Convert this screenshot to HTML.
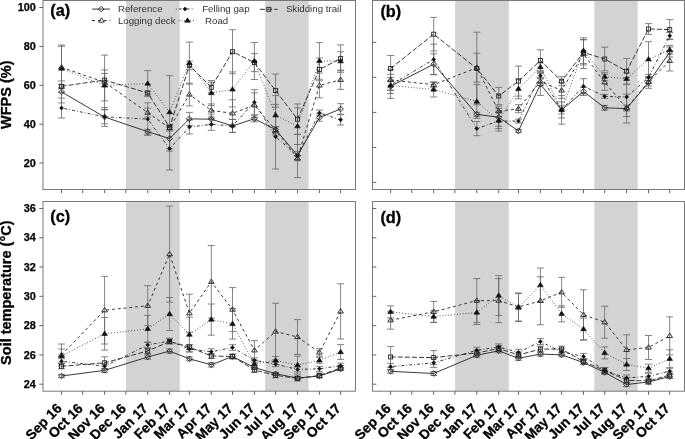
<!DOCTYPE html><html><head><meta charset="utf-8"><style>
html,body{margin:0;padding:0;background:#fff;}
svg{display:block;font-family:"Liberation Sans",sans-serif;will-change:transform;}
.fr{fill:none;stroke:#787878;stroke-width:1;}
.tk{stroke:#666;stroke-width:1;}
.sh{fill:#d3d3d3;}
.eb{stroke:#666;stroke-width:0.8;fill:none;}
.ln{fill:none;stroke:#222;stroke-width:0.9;}
.mo{fill:#fff;fill-opacity:0;stroke:#222;stroke-width:0.9;}
.mf{fill:#111;stroke:#111;stroke-width:0.6;}
.yl{font-size:10.9px;font-weight:bold;fill:#000;stroke:#000;stroke-width:0.25px;text-anchor:end;}
.xl{font-size:13.8px;font-weight:bold;fill:#000;stroke:#000;stroke-width:0.3px;text-anchor:end;}
.pl{font-size:16.3px;font-weight:bold;fill:#000;stroke:#000;stroke-width:0.3px;}
.lg{font-size:9.7px;fill:#333;}
.at{font-size:14.5px;font-weight:bold;fill:#000;stroke:#000;stroke-width:0.3px;text-anchor:middle;}
</style></head><body>
<svg width="685" height="439" viewBox="0 0 685 439">
<rect class="sh" x="126.00" y="0.5" width="53.70" height="189.0"/>
<rect class="sh" x="265.20" y="0.5" width="43.40" height="189.0"/>
<rect class="sh" x="455.10" y="0.5" width="53.70" height="189.0"/>
<rect class="sh" x="594.30" y="0.5" width="43.40" height="189.0"/>
<rect class="sh" x="126.00" y="201.5" width="53.70" height="189.7"/>
<rect class="sh" x="265.20" y="201.5" width="43.40" height="189.7"/>
<rect class="sh" x="455.10" y="201.5" width="53.70" height="189.7"/>
<rect class="sh" x="594.30" y="201.5" width="43.40" height="189.7"/>
<rect class="fr" x="43.0" y="0.5" width="312.5" height="189.0"/>
<line class="tk" x1="61.50" y1="189.5" x2="61.50" y2="193.1"/>
<line class="tk" x1="82.70" y1="189.5" x2="82.70" y2="193.1"/>
<line class="tk" x1="104.60" y1="189.5" x2="104.60" y2="193.1"/>
<line class="tk" x1="125.80" y1="189.5" x2="125.80" y2="193.1"/>
<line class="tk" x1="147.71" y1="189.5" x2="147.71" y2="193.1"/>
<line class="tk" x1="169.61" y1="189.5" x2="169.61" y2="193.1"/>
<line class="tk" x1="189.39" y1="189.5" x2="189.39" y2="193.1"/>
<line class="tk" x1="211.30" y1="189.5" x2="211.30" y2="193.1"/>
<line class="tk" x1="232.50" y1="189.5" x2="232.50" y2="193.1"/>
<line class="tk" x1="254.40" y1="189.5" x2="254.40" y2="193.1"/>
<line class="tk" x1="275.60" y1="189.5" x2="275.60" y2="193.1"/>
<line class="tk" x1="297.50" y1="189.5" x2="297.50" y2="193.1"/>
<line class="tk" x1="319.41" y1="189.5" x2="319.41" y2="193.1"/>
<line class="tk" x1="340.61" y1="189.5" x2="340.61" y2="193.1"/>
<rect class="fr" x="372.5" y="0.5" width="312.0" height="189.0"/>
<line class="tk" x1="390.60" y1="189.5" x2="390.60" y2="193.1"/>
<line class="tk" x1="411.80" y1="189.5" x2="411.80" y2="193.1"/>
<line class="tk" x1="433.70" y1="189.5" x2="433.70" y2="193.1"/>
<line class="tk" x1="454.90" y1="189.5" x2="454.90" y2="193.1"/>
<line class="tk" x1="476.81" y1="189.5" x2="476.81" y2="193.1"/>
<line class="tk" x1="498.71" y1="189.5" x2="498.71" y2="193.1"/>
<line class="tk" x1="518.49" y1="189.5" x2="518.49" y2="193.1"/>
<line class="tk" x1="540.40" y1="189.5" x2="540.40" y2="193.1"/>
<line class="tk" x1="561.60" y1="189.5" x2="561.60" y2="193.1"/>
<line class="tk" x1="583.50" y1="189.5" x2="583.50" y2="193.1"/>
<line class="tk" x1="604.70" y1="189.5" x2="604.70" y2="193.1"/>
<line class="tk" x1="626.60" y1="189.5" x2="626.60" y2="193.1"/>
<line class="tk" x1="648.51" y1="189.5" x2="648.51" y2="193.1"/>
<line class="tk" x1="669.71" y1="189.5" x2="669.71" y2="193.1"/>
<rect class="fr" x="43.0" y="201.5" width="312.5" height="189.7"/>
<line class="tk" x1="61.50" y1="391.2" x2="61.50" y2="394.8"/>
<line class="tk" x1="82.70" y1="391.2" x2="82.70" y2="394.8"/>
<line class="tk" x1="104.60" y1="391.2" x2="104.60" y2="394.8"/>
<line class="tk" x1="125.80" y1="391.2" x2="125.80" y2="394.8"/>
<line class="tk" x1="147.71" y1="391.2" x2="147.71" y2="394.8"/>
<line class="tk" x1="169.61" y1="391.2" x2="169.61" y2="394.8"/>
<line class="tk" x1="189.39" y1="391.2" x2="189.39" y2="394.8"/>
<line class="tk" x1="211.30" y1="391.2" x2="211.30" y2="394.8"/>
<line class="tk" x1="232.50" y1="391.2" x2="232.50" y2="394.8"/>
<line class="tk" x1="254.40" y1="391.2" x2="254.40" y2="394.8"/>
<line class="tk" x1="275.60" y1="391.2" x2="275.60" y2="394.8"/>
<line class="tk" x1="297.50" y1="391.2" x2="297.50" y2="394.8"/>
<line class="tk" x1="319.41" y1="391.2" x2="319.41" y2="394.8"/>
<line class="tk" x1="340.61" y1="391.2" x2="340.61" y2="394.8"/>
<rect class="fr" x="372.5" y="201.5" width="312.0" height="189.7"/>
<line class="tk" x1="390.60" y1="391.2" x2="390.60" y2="394.8"/>
<line class="tk" x1="411.80" y1="391.2" x2="411.80" y2="394.8"/>
<line class="tk" x1="433.70" y1="391.2" x2="433.70" y2="394.8"/>
<line class="tk" x1="454.90" y1="391.2" x2="454.90" y2="394.8"/>
<line class="tk" x1="476.81" y1="391.2" x2="476.81" y2="394.8"/>
<line class="tk" x1="498.71" y1="391.2" x2="498.71" y2="394.8"/>
<line class="tk" x1="518.49" y1="391.2" x2="518.49" y2="394.8"/>
<line class="tk" x1="540.40" y1="391.2" x2="540.40" y2="394.8"/>
<line class="tk" x1="561.60" y1="391.2" x2="561.60" y2="394.8"/>
<line class="tk" x1="583.50" y1="391.2" x2="583.50" y2="394.8"/>
<line class="tk" x1="604.70" y1="391.2" x2="604.70" y2="394.8"/>
<line class="tk" x1="626.60" y1="391.2" x2="626.60" y2="394.8"/>
<line class="tk" x1="648.51" y1="391.2" x2="648.51" y2="394.8"/>
<line class="tk" x1="669.71" y1="391.2" x2="669.71" y2="394.8"/>
<line class="tk" x1="39.3" y1="7.5" x2="43.0" y2="7.5"/>
<text class="yl" x="35.8" y="11.1">100</text>
<line class="tk" x1="39.3" y1="46.4" x2="43.0" y2="46.4"/>
<text class="yl" x="35.8" y="50.0">80</text>
<line class="tk" x1="39.3" y1="85.3" x2="43.0" y2="85.3"/>
<text class="yl" x="35.8" y="88.89999999999999">60</text>
<line class="tk" x1="39.3" y1="124.2" x2="43.0" y2="124.2"/>
<text class="yl" x="35.8" y="127.8">40</text>
<line class="tk" x1="39.3" y1="163.0" x2="43.0" y2="163.0"/>
<text class="yl" x="35.8" y="166.6">20</text>
<line class="tk" x1="372.5" y1="42.4" x2="376.3" y2="42.4"/>
<line class="tk" x1="372.5" y1="77.4" x2="376.3" y2="77.4"/>
<line class="tk" x1="372.5" y1="112.4" x2="376.3" y2="112.4"/>
<line class="tk" x1="372.5" y1="147.4" x2="376.3" y2="147.4"/>
<line class="tk" x1="372.5" y1="182.4" x2="376.3" y2="182.4"/>
<line class="tk" x1="39.3" y1="208.50" x2="43.0" y2="208.50"/>
<text class="yl" x="35.8" y="212.10">36</text>
<line class="tk" x1="372.5" y1="208.50" x2="376.3" y2="208.50"/>
<line class="tk" x1="39.3" y1="237.78" x2="43.0" y2="237.78"/>
<text class="yl" x="35.8" y="241.38">34</text>
<line class="tk" x1="372.5" y1="237.78" x2="376.3" y2="237.78"/>
<line class="tk" x1="39.3" y1="267.06" x2="43.0" y2="267.06"/>
<text class="yl" x="35.8" y="270.66">32</text>
<line class="tk" x1="372.5" y1="267.06" x2="376.3" y2="267.06"/>
<line class="tk" x1="39.3" y1="296.34" x2="43.0" y2="296.34"/>
<text class="yl" x="35.8" y="299.94">30</text>
<line class="tk" x1="372.5" y1="296.34" x2="376.3" y2="296.34"/>
<line class="tk" x1="39.3" y1="325.62" x2="43.0" y2="325.62"/>
<text class="yl" x="35.8" y="329.22">28</text>
<line class="tk" x1="372.5" y1="325.62" x2="376.3" y2="325.62"/>
<line class="tk" x1="39.3" y1="354.90" x2="43.0" y2="354.90"/>
<text class="yl" x="35.8" y="358.50">26</text>
<line class="tk" x1="372.5" y1="354.90" x2="376.3" y2="354.90"/>
<line class="tk" x1="39.3" y1="384.18" x2="43.0" y2="384.18"/>
<text class="yl" x="35.8" y="387.78">24</text>
<line class="tk" x1="372.5" y1="384.18" x2="376.3" y2="384.18"/>
<text class="xl" x="62.60" y="409.2" transform="rotate(-45 62.60 409.2)">Sep 16</text>
<text class="xl" x="83.80" y="409.2" transform="rotate(-45 83.80 409.2)">Oct 16</text>
<text class="xl" x="105.70" y="409.2" transform="rotate(-45 105.70 409.2)">Nov 16</text>
<text class="xl" x="126.90" y="409.2" transform="rotate(-45 126.90 409.2)">Dec 16</text>
<text class="xl" x="148.81" y="409.2" transform="rotate(-45 148.81 409.2)">Jan 17</text>
<text class="xl" x="170.71" y="409.2" transform="rotate(-45 170.71 409.2)">Feb 17</text>
<text class="xl" x="190.49" y="409.2" transform="rotate(-45 190.49 409.2)">Mar 17</text>
<text class="xl" x="212.40" y="409.2" transform="rotate(-45 212.40 409.2)">Apr 17</text>
<text class="xl" x="233.60" y="409.2" transform="rotate(-45 233.60 409.2)">May 17</text>
<text class="xl" x="255.50" y="409.2" transform="rotate(-45 255.50 409.2)">Jun 17</text>
<text class="xl" x="276.70" y="409.2" transform="rotate(-45 276.70 409.2)">Jul 17</text>
<text class="xl" x="298.60" y="409.2" transform="rotate(-45 298.60 409.2)">Aug 17</text>
<text class="xl" x="320.51" y="409.2" transform="rotate(-45 320.51 409.2)">Sep 17</text>
<text class="xl" x="341.71" y="409.2" transform="rotate(-45 341.71 409.2)">Oct 17</text>
<text class="xl" x="391.70" y="409.2" transform="rotate(-45 391.70 409.2)">Sep 16</text>
<text class="xl" x="412.90" y="409.2" transform="rotate(-45 412.90 409.2)">Oct 16</text>
<text class="xl" x="434.80" y="409.2" transform="rotate(-45 434.80 409.2)">Nov 16</text>
<text class="xl" x="456.00" y="409.2" transform="rotate(-45 456.00 409.2)">Dec 16</text>
<text class="xl" x="477.91" y="409.2" transform="rotate(-45 477.91 409.2)">Jan 17</text>
<text class="xl" x="499.81" y="409.2" transform="rotate(-45 499.81 409.2)">Feb 17</text>
<text class="xl" x="519.59" y="409.2" transform="rotate(-45 519.59 409.2)">Mar 17</text>
<text class="xl" x="541.50" y="409.2" transform="rotate(-45 541.50 409.2)">Apr 17</text>
<text class="xl" x="562.70" y="409.2" transform="rotate(-45 562.70 409.2)">May 17</text>
<text class="xl" x="584.60" y="409.2" transform="rotate(-45 584.60 409.2)">Jun 17</text>
<text class="xl" x="605.80" y="409.2" transform="rotate(-45 605.80 409.2)">Jul 17</text>
<text class="xl" x="627.70" y="409.2" transform="rotate(-45 627.70 409.2)">Aug 17</text>
<text class="xl" x="649.61" y="409.2" transform="rotate(-45 649.61 409.2)">Sep 17</text>
<text class="xl" x="670.81" y="409.2" transform="rotate(-45 670.81 409.2)">Oct 17</text>
<text class="pl" x="50.3" y="16.2">(a)</text>
<text class="pl" x="380.4" y="17.0">(b)</text>
<text class="pl" x="50.3" y="222.1">(c)</text>
<text class="pl" x="380.4" y="222.6">(d)</text>
<text class="at" x="10.8" y="94.7" transform="rotate(-90 10.8 94.7)" dy="0">WFPS (%)</text>
<text class="at" x="10.8" y="292.7" transform="rotate(-90 10.8 292.7)">Soil temperature (°C)</text>
<path class="eb" d="M61.50 84.80V87.80M58.00 84.80H65.00M58.00 87.80H65.00"/>
<path class="eb" d="M104.60 73.50V86.70M101.10 73.50H108.10M101.10 86.70H108.10"/>
<path class="eb" d="M147.71 91.00V95.00M144.21 91.00H151.21M144.21 95.00H151.21"/>
<path class="eb" d="M169.61 125.00V129.60M166.11 125.00H173.11M166.11 129.60H173.11"/>
<path class="eb" d="M189.39 61.10V69.70M185.89 61.10H192.89M185.89 69.70H192.89"/>
<path class="eb" d="M211.30 82.30V92.30M207.80 82.30H214.80M207.80 92.30H214.80"/>
<path class="eb" d="M232.50 29.70V73.70M229.00 29.70H236.00M229.00 73.70H236.00"/>
<path class="eb" d="M254.40 53.60V71.60M250.90 53.60H257.90M250.90 71.60H257.90"/>
<path class="eb" d="M275.60 74.00V107.20M272.10 74.00H279.10M272.10 107.20H279.10"/>
<path class="eb" d="M297.50 104.00V134.40M294.00 104.00H301.00M294.00 134.40H301.00"/>
<path class="eb" d="M319.41 58.00V80.80M315.91 58.00H322.91M315.91 80.80H322.91"/>
<path class="eb" d="M340.61 44.90V72.30M337.11 44.90H344.11M337.11 72.30H344.11"/>
<path class="eb" d="M61.50 45.00V92.20M58.00 45.00H65.00M58.00 92.20H65.00"/>
<path class="eb" d="M104.60 69.90V100.90M101.10 69.90H108.10M101.10 100.90H108.10"/>
<path class="eb" d="M147.71 70.60V96.60M144.21 70.60H151.21M144.21 96.60H151.21"/>
<path class="eb" d="M169.61 75.70V148.70M166.11 75.70H173.11M166.11 148.70H173.11"/>
<path class="eb" d="M189.39 42.10V84.10M185.89 42.10H192.89M185.89 84.10H192.89"/>
<path class="eb" d="M211.30 80.50V105.50M207.80 80.50H214.80M207.80 105.50H214.80"/>
<path class="eb" d="M232.50 71.90V106.90M229.00 71.90H236.00M229.00 106.90H236.00"/>
<path class="eb" d="M254.40 42.50V79.50M250.90 42.50H257.90M250.90 79.50H257.90"/>
<path class="eb" d="M275.60 95.60V135.00M272.10 95.60H279.10M272.10 135.00H279.10"/>
<path class="eb" d="M297.50 107.90V144.50M294.00 107.90H301.00M294.00 144.50H301.00"/>
<path class="eb" d="M319.41 42.60V79.20M315.91 42.60H322.91M315.91 79.20H322.91"/>
<path class="eb" d="M340.61 51.70V70.70M337.11 51.70H344.11M337.11 70.70H344.11"/>
<path class="eb" d="M61.50 98.00V118.00M58.00 98.00H65.00M58.00 118.00H65.00"/>
<path class="eb" d="M104.60 109.80V123.80M101.10 109.80H108.10M101.10 123.80H108.10"/>
<path class="eb" d="M147.71 102.80V135.40M144.21 102.80H151.21M144.21 135.40H151.21"/>
<path class="eb" d="M169.61 127.40V170.00M166.11 127.40H173.11M166.11 170.00H173.11"/>
<path class="eb" d="M189.39 120.00V134.00M185.89 120.00H192.89M185.89 134.00H192.89"/>
<path class="eb" d="M211.30 118.40V130.40M207.80 118.40H214.80M207.80 130.40H214.80"/>
<path class="eb" d="M232.50 119.40V132.40M229.00 119.40H236.00M229.00 132.40H236.00"/>
<path class="eb" d="M254.40 89.70V114.70M250.90 89.70H257.90M250.90 114.70H257.90"/>
<path class="eb" d="M275.60 104.40V169.00M272.10 104.40H279.10M272.10 169.00H279.10"/>
<path class="eb" d="M297.50 134.40V177.60M294.00 134.40H301.00M294.00 177.60H301.00"/>
<path class="eb" d="M319.41 110.00V116.00M315.91 110.00H322.91M315.91 116.00H322.91"/>
<path class="eb" d="M340.61 114.60V125.00M337.11 114.60H344.11M337.11 125.00H344.11"/>
<path class="eb" d="M61.50 46.30V88.30M58.00 46.30H65.00M58.00 88.30H65.00"/>
<path class="eb" d="M104.60 55.10V109.50M101.10 55.10H108.10M101.10 109.50H108.10"/>
<path class="eb" d="M147.71 108.20V117.00M144.21 108.20H151.21M144.21 117.00H151.21"/>
<path class="eb" d="M169.61 125.00V131.00M166.11 125.00H173.11M166.11 131.00H173.11"/>
<path class="eb" d="M189.39 83.10V105.90M185.89 83.10H192.89M185.89 105.90H192.89"/>
<path class="eb" d="M211.30 103.90V116.90M207.80 103.90H214.80M207.80 116.90H214.80"/>
<path class="eb" d="M232.50 99.80V126.80M229.00 99.80H236.00M229.00 126.80H236.00"/>
<path class="eb" d="M254.40 92.80V117.60M250.90 92.80H257.90M250.90 117.60H257.90"/>
<path class="eb" d="M275.60 127.00V133.00M272.10 127.00H279.10M272.10 133.00H279.10"/>
<path class="eb" d="M297.50 155.80V160.80M294.00 155.80H301.00M294.00 160.80H301.00"/>
<path class="eb" d="M319.41 73.00V97.80M315.91 73.00H322.91M315.91 97.80H322.91"/>
<path class="eb" d="M340.61 70.20V89.40M337.11 70.20H344.11M337.11 89.40H344.11"/>
<path class="eb" d="M61.50 80.90V102.90M58.00 80.90H65.00M58.00 102.90H65.00"/>
<path class="eb" d="M104.60 107.60V126.40M101.10 107.60H108.10M101.10 126.40H108.10"/>
<path class="eb" d="M147.71 129.30V134.10M144.21 129.30H151.21M144.21 134.10H151.21"/>
<path class="eb" d="M169.61 126.10V151.10M166.11 126.10H173.11M166.11 151.10H173.11"/>
<path class="eb" d="M189.39 112.40V125.40M185.89 112.40H192.89M185.89 125.40H192.89"/>
<path class="eb" d="M211.30 114.20V124.20M207.80 114.20H214.80M207.80 124.20H214.80"/>
<path class="eb" d="M232.50 119.40V132.40M229.00 119.40H236.00M229.00 132.40H236.00"/>
<path class="eb" d="M254.40 115.80V121.80M250.90 115.80H257.90M250.90 121.80H257.90"/>
<path class="eb" d="M275.60 126.50V132.50M272.10 126.50H279.10M272.10 132.50H279.10"/>
<path class="eb" d="M297.50 151.40V159.40M294.00 151.40H301.00M294.00 159.40H301.00"/>
<path class="eb" d="M319.41 113.80V121.20M315.91 113.80H322.91M315.91 121.20H322.91"/>
<path class="eb" d="M340.61 103.70V114.30M337.11 103.70H344.11M337.11 114.30H344.11"/>
<path class="ln" d="M61.50 86.30L104.60 80.10L147.71 93.00L169.61 127.30L189.39 65.40L211.30 87.30L232.50 51.70L254.40 62.60L275.60 90.60L297.50 119.20L319.41 69.40L340.61 58.60" stroke-dasharray="5 2.1"/>
<path class="ln" d="M61.50 68.60L104.60 85.40L147.71 83.60L169.61 112.20L189.39 63.10L211.30 93.00L232.50 89.40L254.40 61.00L275.60 115.30L297.50 126.20L319.41 60.90L340.61 61.20" stroke-dasharray="0.8 2.1"/>
<path class="ln" d="M61.50 108.00L104.60 116.80L147.71 119.10L169.61 148.70L189.39 127.00L211.30 124.40L232.50 125.90L254.40 102.20L275.60 136.70L297.50 156.00L319.41 113.00L340.61 119.80" stroke-dasharray="0.8 2.1 2.9 2.1"/>
<path class="ln" d="M61.50 67.30L104.60 82.30L147.71 112.60L169.61 128.00L189.39 94.50L211.30 110.40L232.50 113.30L254.40 105.20L275.60 130.00L297.50 158.30L319.41 85.40L340.61 79.80" stroke-dasharray="2.9 2.9"/>
<path class="ln" d="M61.50 91.90L104.60 117.00L147.71 131.70L169.61 138.60L189.39 118.90L211.30 119.20L232.50 125.90L254.40 118.80L275.60 129.50L297.50 155.40L319.41 117.50L340.61 109.00"/>
<rect x="59.51" y="84.31" width="3.99" height="3.99" class="mo"/>
<rect x="102.61" y="78.11" width="3.99" height="3.99" class="mo"/>
<rect x="145.71" y="91.01" width="3.99" height="3.99" class="mo"/>
<rect x="167.62" y="125.31" width="3.99" height="3.99" class="mo"/>
<rect x="187.40" y="63.41" width="3.99" height="3.99" class="mo"/>
<rect x="209.31" y="85.31" width="3.99" height="3.99" class="mo"/>
<rect x="230.50" y="49.71" width="3.99" height="3.99" class="mo"/>
<rect x="252.41" y="60.61" width="3.99" height="3.99" class="mo"/>
<rect x="273.61" y="88.61" width="3.99" height="3.99" class="mo"/>
<rect x="295.51" y="117.21" width="3.99" height="3.99" class="mo"/>
<rect x="317.42" y="67.41" width="3.99" height="3.99" class="mo"/>
<rect x="338.61" y="56.61" width="3.99" height="3.99" class="mo"/>
<path d="M61.50 65.85L64.35 70.25L58.65 70.25Z" class="mf"/>
<path d="M104.60 82.65L107.45 87.05L101.75 87.05Z" class="mf"/>
<path d="M147.71 80.85L150.56 85.25L144.86 85.25Z" class="mf"/>
<path d="M169.61 109.45L172.46 113.85L166.76 113.85Z" class="mf"/>
<path d="M189.39 60.35L192.24 64.75L186.54 64.75Z" class="mf"/>
<path d="M211.30 90.25L214.15 94.65L208.45 94.65Z" class="mf"/>
<path d="M232.50 86.65L235.35 91.05L229.65 91.05Z" class="mf"/>
<path d="M254.40 58.25L257.25 62.65L251.55 62.65Z" class="mf"/>
<path d="M275.60 112.55L278.45 116.95L272.75 116.95Z" class="mf"/>
<path d="M297.50 123.45L300.35 127.85L294.65 127.85Z" class="mf"/>
<path d="M319.41 58.15L322.26 62.55L316.56 62.55Z" class="mf"/>
<path d="M340.61 58.45L343.46 62.85L337.76 62.85Z" class="mf"/>
<path d="M61.50 106.04L63.46 108.00L61.50 109.96L59.54 108.00Z" class="mf"/>
<path d="M104.60 114.84L106.56 116.80L104.60 118.76L102.65 116.80Z" class="mf"/>
<path d="M147.71 117.14L149.66 119.10L147.71 121.06L145.75 119.10Z" class="mf"/>
<path d="M169.61 146.74L171.57 148.70L169.61 150.66L167.65 148.70Z" class="mf"/>
<path d="M189.39 125.04L191.35 127.00L189.39 128.96L187.44 127.00Z" class="mf"/>
<path d="M211.30 122.44L213.26 124.40L211.30 126.36L209.34 124.40Z" class="mf"/>
<path d="M232.50 123.94L234.45 125.90L232.50 127.86L230.54 125.90Z" class="mf"/>
<path d="M254.40 100.24L256.36 102.20L254.40 104.16L252.44 102.20Z" class="mf"/>
<path d="M275.60 134.74L277.56 136.70L275.60 138.66L273.64 136.70Z" class="mf"/>
<path d="M297.50 154.04L299.46 156.00L297.50 157.96L295.55 156.00Z" class="mf"/>
<path d="M319.41 111.04L321.37 113.00L319.41 114.96L317.45 113.00Z" class="mf"/>
<path d="M340.61 117.84L342.56 119.80L340.61 121.76L338.65 119.80Z" class="mf"/>
<path d="M61.50 64.55L64.35 68.95L58.65 68.95Z" class="mo"/>
<path d="M104.60 79.55L107.45 83.95L101.75 83.95Z" class="mo"/>
<path d="M147.71 109.85L150.56 114.25L144.86 114.25Z" class="mo"/>
<path d="M169.61 125.25L172.46 129.65L166.76 129.65Z" class="mo"/>
<path d="M189.39 91.75L192.24 96.15L186.54 96.15Z" class="mo"/>
<path d="M211.30 107.65L214.15 112.05L208.45 112.05Z" class="mo"/>
<path d="M232.50 110.55L235.35 114.95L229.65 114.95Z" class="mo"/>
<path d="M254.40 102.45L257.25 106.85L251.55 106.85Z" class="mo"/>
<path d="M275.60 127.25L278.45 131.65L272.75 131.65Z" class="mo"/>
<path d="M297.50 155.55L300.35 159.95L294.65 159.95Z" class="mo"/>
<path d="M319.41 82.65L322.26 87.05L316.56 87.05Z" class="mo"/>
<path d="M340.61 77.05L343.46 81.45L337.76 81.45Z" class="mo"/>
<path d="M61.50 89.08L64.32 91.90L61.50 94.72L58.68 91.90Z" class="mo"/>
<path d="M104.60 114.18L107.42 117.00L104.60 119.82L101.78 117.00Z" class="mo"/>
<path d="M147.71 128.88L150.52 131.70L147.71 134.52L144.89 131.70Z" class="mo"/>
<path d="M169.61 135.78L172.43 138.60L169.61 141.42L166.79 138.60Z" class="mo"/>
<path d="M189.39 116.08L192.21 118.90L189.39 121.72L186.58 118.90Z" class="mo"/>
<path d="M211.30 116.38L214.12 119.20L211.30 122.02L208.48 119.20Z" class="mo"/>
<path d="M232.50 123.08L235.32 125.90L232.50 128.72L229.68 125.90Z" class="mo"/>
<path d="M254.40 115.98L257.22 118.80L254.40 121.62L251.58 118.80Z" class="mo"/>
<path d="M275.60 126.68L278.42 129.50L275.60 132.32L272.78 129.50Z" class="mo"/>
<path d="M297.50 152.58L300.32 155.40L297.50 158.22L294.69 155.40Z" class="mo"/>
<path d="M319.41 114.68L322.23 117.50L319.41 120.32L316.59 117.50Z" class="mo"/>
<path d="M340.61 106.18L343.43 109.00L340.61 111.82L337.79 109.00Z" class="mo"/>
<path class="eb" d="M390.60 55.50V81.50M387.10 55.50H394.10M387.10 81.50H394.10"/>
<path class="eb" d="M433.70 17.40V51.00M430.20 17.40H437.20M430.20 51.00H437.20"/>
<path class="eb" d="M476.81 32.20V104.80M473.31 32.20H480.31M473.31 104.80H480.31"/>
<path class="eb" d="M498.71 87.40V104.60M495.21 87.40H502.21M495.21 104.60H502.21"/>
<path class="eb" d="M518.49 66.10V96.10M514.99 66.10H521.99M514.99 96.10H521.99"/>
<path class="eb" d="M540.40 49.80V71.20M536.90 49.80H543.90M536.90 71.20H543.90"/>
<path class="eb" d="M561.60 76.70V85.70M558.10 76.70H565.10M558.10 85.70H565.10"/>
<path class="eb" d="M583.50 39.90V64.90M580.00 39.90H587.00M580.00 64.90H587.00"/>
<path class="eb" d="M604.70 47.20V70.80M601.20 47.20H608.20M601.20 70.80H608.20"/>
<path class="eb" d="M626.60 58.40V84.00M623.10 58.40H630.10M623.10 84.00H630.10"/>
<path class="eb" d="M648.51 23.60V34.40M645.01 23.60H652.01M645.01 34.40H652.01"/>
<path class="eb" d="M669.71 19.60V39.60M666.21 19.60H673.21M666.21 39.60H673.21"/>
<path class="eb" d="M390.60 77.50V93.50M387.10 77.50H394.10M387.10 93.50H394.10"/>
<path class="eb" d="M433.70 82.00V97.00M430.20 82.00H437.20M430.20 97.00H437.20"/>
<path class="eb" d="M476.81 84.70V118.30M473.31 84.70H480.31M473.31 118.30H480.31"/>
<path class="eb" d="M498.71 112.50V128.50M495.21 112.50H502.21M495.21 128.50H502.21"/>
<path class="eb" d="M518.49 78.80V98.80M514.99 78.80H521.99M514.99 98.80H521.99"/>
<path class="eb" d="M540.40 63.00V71.00M536.90 63.00H543.90M536.90 71.00H543.90"/>
<path class="eb" d="M561.60 95.60V124.20M558.10 95.60H565.10M558.10 124.20H565.10"/>
<path class="eb" d="M583.50 37.80V63.60M580.00 37.80H587.00M580.00 63.60H587.00"/>
<path class="eb" d="M604.70 72.70V80.70M601.20 72.70H608.20M601.20 80.70H608.20"/>
<path class="eb" d="M626.60 72.90V84.70M623.10 72.90H630.10M623.10 84.70H630.10"/>
<path class="eb" d="M648.51 41.70V76.90M645.01 41.70H652.01M645.01 76.90H652.01"/>
<path class="eb" d="M669.71 45.40V54.20M666.21 45.40H673.21M666.21 54.20H673.21"/>
<path class="eb" d="M390.60 80.20V90.20M387.10 80.20H394.10M387.10 90.20H394.10"/>
<path class="eb" d="M433.70 44.10V74.70M430.20 44.10H437.20M430.20 74.70H437.20"/>
<path class="eb" d="M476.81 121.50V135.70M473.31 121.50H480.31M473.31 135.70H480.31"/>
<path class="eb" d="M498.71 111.00V131.00M495.21 111.00H502.21M495.21 131.00H502.21"/>
<path class="eb" d="M518.49 119.10V123.10M514.99 119.10H521.99M514.99 123.10H521.99"/>
<path class="eb" d="M540.40 72.60V78.60M536.90 72.60H543.90M536.90 78.60H543.90"/>
<path class="eb" d="M561.60 105.90V113.90M558.10 105.90H565.10M558.10 113.90H565.10"/>
<path class="eb" d="M583.50 78.70V93.70M580.00 78.70H587.00M580.00 93.70H587.00"/>
<path class="eb" d="M604.70 94.40V98.40M601.20 94.40H608.20M601.20 98.40H608.20"/>
<path class="eb" d="M626.60 77.50V116.50M623.10 77.50H630.10M623.10 116.50H630.10"/>
<path class="eb" d="M648.51 74.40V80.40M645.01 74.40H652.01M645.01 80.40H652.01"/>
<path class="eb" d="M669.71 32.50V39.10M666.21 32.50H673.21M666.21 39.10H673.21"/>
<path class="eb" d="M390.60 69.70V90.30M387.10 69.70H394.10M387.10 90.30H394.10"/>
<path class="eb" d="M433.70 82.20V87.20M430.20 82.20H437.20M430.20 87.20H437.20"/>
<path class="eb" d="M476.81 53.30V82.10M473.31 53.30H480.31M473.31 82.10H480.31"/>
<path class="eb" d="M498.71 106.10V116.50M495.21 106.10H502.21M495.21 116.50H502.21"/>
<path class="eb" d="M518.49 104.70V112.70M514.99 104.70H521.99M514.99 112.70H521.99"/>
<path class="eb" d="M540.40 77.50V85.50M536.90 77.50H543.90M536.90 85.50H543.90"/>
<path class="eb" d="M561.60 82.40V98.40M558.10 82.40H565.10M558.10 98.40H565.10"/>
<path class="eb" d="M583.50 39.50V68.50M580.00 39.50H587.00M580.00 68.50H587.00"/>
<path class="eb" d="M604.70 74.30V90.30M601.20 74.30H608.20M601.20 90.30H608.20"/>
<path class="eb" d="M626.60 105.00V111.00M623.10 105.00H630.10M623.10 111.00H630.10"/>
<path class="eb" d="M648.51 78.00V86.00M645.01 78.00H652.01M645.01 86.00H652.01"/>
<path class="eb" d="M669.71 50.60V71.00M666.21 50.60H673.21M666.21 71.00H673.21"/>
<path class="eb" d="M390.60 74.30V98.30M387.10 74.30H394.10M387.10 98.30H394.10"/>
<path class="eb" d="M433.70 53.80V74.60M430.20 53.80H437.20M430.20 74.60H437.20"/>
<path class="eb" d="M476.81 112.30V116.30M473.31 112.30H480.31M473.31 116.30H480.31"/>
<path class="eb" d="M498.71 108.30V126.30M495.21 108.30H502.21M495.21 126.30H502.21"/>
<path class="eb" d="M518.49 129.40V132.60M514.99 129.40H521.99M514.99 132.60H521.99"/>
<path class="eb" d="M540.40 73.40V95.40M536.90 73.40H543.90M536.90 95.40H543.90"/>
<path class="eb" d="M561.60 101.90V117.90M558.10 101.90H565.10M558.10 117.90H565.10"/>
<path class="eb" d="M583.50 87.50V95.50M580.00 87.50H587.00M580.00 95.50H587.00"/>
<path class="eb" d="M604.70 105.40V110.20M601.20 105.40H608.20M601.20 110.20H608.20"/>
<path class="eb" d="M626.60 94.20V123.00M623.10 94.20H630.10M623.10 123.00H630.10"/>
<path class="eb" d="M648.51 76.90V88.30M645.01 76.90H652.01M645.01 88.30H652.01"/>
<path class="eb" d="M669.71 47.00V57.00M666.21 47.00H673.21M666.21 57.00H673.21"/>
<path class="ln" d="M390.60 68.50L433.70 34.20L476.81 68.50L498.71 96.00L518.49 81.10L540.40 60.50L561.60 81.20L583.50 52.40L604.70 59.00L626.60 71.20L648.51 29.00L669.71 29.60" stroke-dasharray="5 2.1"/>
<path class="ln" d="M390.60 85.50L433.70 89.50L476.81 101.50L498.71 120.50L518.49 88.80L540.40 67.00L561.60 109.90L583.50 50.70L604.70 76.70L626.60 78.80L648.51 59.30L669.71 49.80" stroke-dasharray="0.8 2.1"/>
<path class="ln" d="M390.60 85.20L433.70 59.40L476.81 128.60L498.71 121.00L518.49 121.10L540.40 75.60L561.60 109.90L583.50 86.20L604.70 96.40L626.60 97.00L648.51 77.40L669.71 35.80" stroke-dasharray="0.8 2.1 2.9 2.1"/>
<path class="ln" d="M390.60 80.00L433.70 84.70L476.81 67.70L498.71 111.30L518.49 108.70L540.40 81.50L561.60 90.40L583.50 54.00L604.70 82.30L626.60 108.00L648.51 82.00L669.71 60.80" stroke-dasharray="2.9 2.9"/>
<path class="ln" d="M390.60 86.30L433.70 64.20L476.81 114.30L498.71 117.30L518.49 131.00L540.40 84.40L561.60 109.90L583.50 91.50L604.70 107.80L626.60 108.60L648.51 82.60L669.71 52.00"/>
<rect x="388.61" y="66.51" width="3.99" height="3.99" class="mo"/>
<rect x="431.71" y="32.21" width="3.99" height="3.99" class="mo"/>
<rect x="474.81" y="66.51" width="3.99" height="3.99" class="mo"/>
<rect x="496.72" y="94.01" width="3.99" height="3.99" class="mo"/>
<rect x="516.50" y="79.11" width="3.99" height="3.99" class="mo"/>
<rect x="538.41" y="58.51" width="3.99" height="3.99" class="mo"/>
<rect x="559.60" y="79.21" width="3.99" height="3.99" class="mo"/>
<rect x="581.51" y="50.41" width="3.99" height="3.99" class="mo"/>
<rect x="602.71" y="57.01" width="3.99" height="3.99" class="mo"/>
<rect x="624.61" y="69.21" width="3.99" height="3.99" class="mo"/>
<rect x="646.52" y="27.01" width="3.99" height="3.99" class="mo"/>
<rect x="667.71" y="27.61" width="3.99" height="3.99" class="mo"/>
<path d="M390.60 82.75L393.45 87.15L387.75 87.15Z" class="mf"/>
<path d="M433.70 86.75L436.55 91.15L430.85 91.15Z" class="mf"/>
<path d="M476.81 98.75L479.66 103.15L473.96 103.15Z" class="mf"/>
<path d="M498.71 117.75L501.56 122.15L495.86 122.15Z" class="mf"/>
<path d="M518.49 86.05L521.34 90.45L515.64 90.45Z" class="mf"/>
<path d="M540.40 64.25L543.25 68.65L537.55 68.65Z" class="mf"/>
<path d="M561.60 107.15L564.45 111.55L558.75 111.55Z" class="mf"/>
<path d="M583.50 47.95L586.35 52.35L580.65 52.35Z" class="mf"/>
<path d="M604.70 73.95L607.55 78.35L601.85 78.35Z" class="mf"/>
<path d="M626.60 76.05L629.45 80.45L623.75 80.45Z" class="mf"/>
<path d="M648.51 56.55L651.36 60.95L645.66 60.95Z" class="mf"/>
<path d="M669.71 47.05L672.56 51.45L666.86 51.45Z" class="mf"/>
<path d="M390.60 83.24L392.56 85.20L390.60 87.16L388.64 85.20Z" class="mf"/>
<path d="M433.70 57.44L435.66 59.40L433.70 61.36L431.75 59.40Z" class="mf"/>
<path d="M476.81 126.64L478.76 128.60L476.81 130.56L474.85 128.60Z" class="mf"/>
<path d="M498.71 119.04L500.67 121.00L498.71 122.96L496.75 121.00Z" class="mf"/>
<path d="M518.49 119.14L520.45 121.10L518.49 123.06L516.54 121.10Z" class="mf"/>
<path d="M540.40 73.64L542.36 75.60L540.40 77.56L538.44 75.60Z" class="mf"/>
<path d="M561.60 107.94L563.55 109.90L561.60 111.86L559.64 109.90Z" class="mf"/>
<path d="M583.50 84.24L585.46 86.20L583.50 88.16L581.54 86.20Z" class="mf"/>
<path d="M604.70 94.44L606.66 96.40L604.70 98.36L602.74 96.40Z" class="mf"/>
<path d="M626.60 95.04L628.56 97.00L626.60 98.96L624.65 97.00Z" class="mf"/>
<path d="M648.51 75.44L650.47 77.40L648.51 79.36L646.55 77.40Z" class="mf"/>
<path d="M669.71 33.84L671.66 35.80L669.71 37.76L667.75 35.80Z" class="mf"/>
<path d="M390.60 77.25L393.45 81.65L387.75 81.65Z" class="mo"/>
<path d="M433.70 81.95L436.55 86.35L430.85 86.35Z" class="mo"/>
<path d="M476.81 64.95L479.66 69.35L473.96 69.35Z" class="mo"/>
<path d="M498.71 108.55L501.56 112.95L495.86 112.95Z" class="mo"/>
<path d="M518.49 105.95L521.34 110.35L515.64 110.35Z" class="mo"/>
<path d="M540.40 78.75L543.25 83.15L537.55 83.15Z" class="mo"/>
<path d="M561.60 87.65L564.45 92.05L558.75 92.05Z" class="mo"/>
<path d="M583.50 51.25L586.35 55.65L580.65 55.65Z" class="mo"/>
<path d="M604.70 79.55L607.55 83.95L601.85 83.95Z" class="mo"/>
<path d="M626.60 105.25L629.45 109.65L623.75 109.65Z" class="mo"/>
<path d="M648.51 79.25L651.36 83.65L645.66 83.65Z" class="mo"/>
<path d="M669.71 58.05L672.56 62.45L666.86 62.45Z" class="mo"/>
<path d="M390.60 83.48L393.42 86.30L390.60 89.12L387.78 86.30Z" class="mo"/>
<path d="M433.70 61.38L436.52 64.20L433.70 67.02L430.88 64.20Z" class="mo"/>
<path d="M476.81 111.48L479.62 114.30L476.81 117.12L473.99 114.30Z" class="mo"/>
<path d="M498.71 114.48L501.53 117.30L498.71 120.12L495.89 117.30Z" class="mo"/>
<path d="M518.49 128.18L521.31 131.00L518.49 133.82L515.68 131.00Z" class="mo"/>
<path d="M540.40 81.58L543.22 84.40L540.40 87.22L537.58 84.40Z" class="mo"/>
<path d="M561.60 107.08L564.42 109.90L561.60 112.72L558.78 109.90Z" class="mo"/>
<path d="M583.50 88.68L586.32 91.50L583.50 94.32L580.68 91.50Z" class="mo"/>
<path d="M604.70 104.98L607.52 107.80L604.70 110.62L601.88 107.80Z" class="mo"/>
<path d="M626.60 105.78L629.42 108.60L626.60 111.42L623.79 108.60Z" class="mo"/>
<path d="M648.51 79.78L651.33 82.60L648.51 85.42L645.69 82.60Z" class="mo"/>
<path d="M669.71 49.18L672.53 52.00L669.71 54.82L666.89 52.00Z" class="mo"/>
<path class="eb" d="M61.50 363.80V368.80M58.00 363.80H65.00M58.00 368.80H65.00"/>
<path class="eb" d="M104.60 356.80V368.80M101.10 356.80H108.10M101.10 368.80H108.10"/>
<path class="eb" d="M147.71 348.50V353.50M144.21 348.50H151.21M144.21 353.50H151.21"/>
<path class="eb" d="M169.61 339.00V344.00M166.11 339.00H173.11M166.11 344.00H173.11"/>
<path class="eb" d="M189.39 344.50V349.50M185.89 344.50H192.89M185.89 349.50H192.89"/>
<path class="eb" d="M211.30 353.50V358.50M207.80 353.50H214.80M207.80 358.50H214.80"/>
<path class="eb" d="M232.50 354.00V359.00M229.00 354.00H236.00M229.00 359.00H236.00"/>
<path class="eb" d="M254.40 367.50V372.50M250.90 367.50H257.90M250.90 372.50H257.90"/>
<path class="eb" d="M275.60 372.80V377.80M272.10 372.80H279.10M272.10 377.80H279.10"/>
<path class="eb" d="M297.50 376.00V381.00M294.00 376.00H301.00M294.00 381.00H301.00"/>
<path class="eb" d="M319.41 373.00V378.00M315.91 373.00H322.91M315.91 378.00H322.91"/>
<path class="eb" d="M340.61 365.50V370.50M337.11 365.50H344.11M337.11 370.50H344.11"/>
<path class="eb" d="M61.50 349.00V363.00M58.00 349.00H65.00M58.00 363.00H65.00"/>
<path class="eb" d="M104.60 317.50V350.10M101.10 317.50H108.10M101.10 350.10H108.10"/>
<path class="eb" d="M147.71 315.40V342.40M144.21 315.40H151.21M144.21 342.40H151.21"/>
<path class="eb" d="M169.61 297.50V330.50M166.11 297.50H173.11M166.11 330.50H173.11"/>
<path class="eb" d="M189.39 317.20V352.00M185.89 317.20H192.89M185.89 352.00H192.89"/>
<path class="eb" d="M211.30 304.00V335.20M207.80 304.00H214.80M207.80 335.20H214.80"/>
<path class="eb" d="M232.50 308.50V339.10M229.00 308.50H236.00M229.00 339.10H236.00"/>
<path class="eb" d="M254.40 360.90V366.90M250.90 360.90H257.90M250.90 366.90H257.90"/>
<path class="eb" d="M275.60 356.50V364.50M272.10 356.50H279.10M272.10 364.50H279.10"/>
<path class="eb" d="M297.50 356.10V374.10M294.00 356.10H301.00M294.00 374.10H301.00"/>
<path class="eb" d="M319.41 357.30V363.30M315.91 357.30H322.91M315.91 363.30H322.91"/>
<path class="eb" d="M340.61 344.60V359.40M337.11 344.60H344.11M337.11 359.40H344.11"/>
<path class="eb" d="M61.50 358.70V363.70M58.00 358.70H65.00M58.00 363.70H65.00"/>
<path class="eb" d="M104.60 363.80V368.80M101.10 363.80H108.10M101.10 368.80H108.10"/>
<path class="eb" d="M147.71 342.10V347.70M144.21 342.10H151.21M144.21 347.70H151.21"/>
<path class="eb" d="M169.61 338.20V343.80M166.11 338.20H173.11M166.11 343.80H173.11"/>
<path class="eb" d="M189.39 346.20V351.80M185.89 346.20H192.89M185.89 351.80H192.89"/>
<path class="eb" d="M211.30 348.80V354.80M207.80 348.80H214.80M207.80 354.80H214.80"/>
<path class="eb" d="M232.50 344.70V350.30M229.00 344.70H236.00M229.00 350.30H236.00"/>
<path class="eb" d="M254.40 357.80V362.80M250.90 357.80H257.90M250.90 362.80H257.90"/>
<path class="eb" d="M275.60 361.70V366.70M272.10 361.70H279.10M272.10 366.70H279.10"/>
<path class="eb" d="M297.50 366.90V371.90M294.00 366.90H301.00M294.00 371.90H301.00"/>
<path class="eb" d="M319.41 366.30V371.30M315.91 366.30H322.91M315.91 371.30H322.91"/>
<path class="eb" d="M340.61 363.20V368.20M337.11 363.20H344.11M337.11 368.20H344.11"/>
<path class="eb" d="M61.50 344.00V366.00M58.00 344.00H65.00M58.00 366.00H65.00"/>
<path class="eb" d="M104.60 276.40V344.00M101.10 276.40H108.10M101.10 344.00H108.10"/>
<path class="eb" d="M147.71 285.70V325.70M144.21 285.70H151.21M144.21 325.70H151.21"/>
<path class="eb" d="M169.61 206.10V302.10M166.11 206.10H173.11M166.11 302.10H173.11"/>
<path class="eb" d="M189.39 294.20V332.20M185.89 294.20H192.89M185.89 332.20H192.89"/>
<path class="eb" d="M211.30 245.50V318.10M207.80 245.50H214.80M207.80 318.10H214.80"/>
<path class="eb" d="M232.50 287.60V331.60M229.00 287.60H236.00M229.00 331.60H236.00"/>
<path class="eb" d="M254.40 340.60V360.00M250.90 340.60H257.90M250.90 360.00H257.90"/>
<path class="eb" d="M275.60 303.20V359.80M272.10 303.20H279.10M272.10 359.80H279.10"/>
<path class="eb" d="M297.50 319.60V354.40M294.00 319.60H301.00M294.00 354.40H301.00"/>
<path class="eb" d="M319.41 348.70V356.10M315.91 348.70H322.91M315.91 356.10H322.91"/>
<path class="eb" d="M340.61 283.80V339.00M337.11 283.80H344.11M337.11 339.00H344.11"/>
<path class="eb" d="M61.50 374.50V377.50M58.00 374.50H65.00M58.00 377.50H65.00"/>
<path class="eb" d="M104.60 368.40V372.40M101.10 368.40H108.10M101.10 372.40H108.10"/>
<path class="eb" d="M147.71 354.70V359.30M144.21 354.70H151.21M144.21 359.30H151.21"/>
<path class="eb" d="M169.61 348.90V353.30M166.11 348.90H173.11M166.11 353.30H173.11"/>
<path class="eb" d="M189.39 356.80V360.80M185.89 356.80H192.89M185.89 360.80H192.89"/>
<path class="eb" d="M211.30 362.60V367.00M207.80 362.60H214.80M207.80 367.00H214.80"/>
<path class="eb" d="M232.50 354.50V358.50M229.00 354.50H236.00M229.00 358.50H236.00"/>
<path class="eb" d="M254.40 365.50V369.50M250.90 365.50H257.90M250.90 369.50H257.90"/>
<path class="eb" d="M275.60 372.30V375.30M272.10 372.30H279.10M272.10 375.30H279.10"/>
<path class="eb" d="M297.50 376.50V379.50M294.00 376.50H301.00M294.00 379.50H301.00"/>
<path class="eb" d="M319.41 374.50V377.50M315.91 374.50H322.91M315.91 377.50H322.91"/>
<path class="eb" d="M340.61 367.50V370.50M337.11 367.50H344.11M337.11 370.50H344.11"/>
<path class="ln" d="M61.50 366.30L104.60 362.80L147.71 351.00L169.61 341.50L189.39 347.00L211.30 356.00L232.50 356.50L254.40 370.00L275.60 375.30L297.50 378.50L319.41 375.50L340.61 368.00" stroke-dasharray="5 2.1"/>
<path class="ln" d="M61.50 356.00L104.60 333.80L147.71 328.90L169.61 314.00L189.39 334.60L211.30 319.60L232.50 323.80L254.40 363.90L275.60 360.50L297.50 365.10L319.41 360.30L340.61 352.00" stroke-dasharray="0.8 2.1"/>
<path class="ln" d="M61.50 361.20L104.60 366.30L147.71 344.90L169.61 341.00L189.39 349.00L211.30 351.80L232.50 347.50L254.40 360.30L275.60 364.20L297.50 369.40L319.41 368.80L340.61 365.70" stroke-dasharray="0.8 2.1 2.9 2.1"/>
<path class="ln" d="M61.50 355.00L104.60 310.20L147.71 305.70L169.61 254.10L189.39 313.20L211.30 281.80L232.50 309.60L254.40 350.30L275.60 331.50L297.50 337.00L319.41 352.40L340.61 311.40" stroke-dasharray="2.9 2.9"/>
<path class="ln" d="M61.50 376.00L104.60 370.40L147.71 357.00L169.61 351.10L189.39 358.80L211.30 364.80L232.50 356.50L254.40 367.50L275.60 373.80L297.50 378.00L319.41 376.00L340.61 369.00"/>
<rect x="59.51" y="364.31" width="3.99" height="3.99" class="mo"/>
<rect x="102.61" y="360.81" width="3.99" height="3.99" class="mo"/>
<rect x="145.71" y="349.01" width="3.99" height="3.99" class="mo"/>
<rect x="167.62" y="339.51" width="3.99" height="3.99" class="mo"/>
<rect x="187.40" y="345.01" width="3.99" height="3.99" class="mo"/>
<rect x="209.31" y="354.01" width="3.99" height="3.99" class="mo"/>
<rect x="230.50" y="354.51" width="3.99" height="3.99" class="mo"/>
<rect x="252.41" y="368.01" width="3.99" height="3.99" class="mo"/>
<rect x="273.61" y="373.31" width="3.99" height="3.99" class="mo"/>
<rect x="295.51" y="376.51" width="3.99" height="3.99" class="mo"/>
<rect x="317.42" y="373.51" width="3.99" height="3.99" class="mo"/>
<rect x="338.61" y="366.01" width="3.99" height="3.99" class="mo"/>
<path d="M61.50 353.25L64.35 357.65L58.65 357.65Z" class="mf"/>
<path d="M104.60 331.05L107.45 335.45L101.75 335.45Z" class="mf"/>
<path d="M147.71 326.15L150.56 330.55L144.86 330.55Z" class="mf"/>
<path d="M169.61 311.25L172.46 315.65L166.76 315.65Z" class="mf"/>
<path d="M189.39 331.85L192.24 336.25L186.54 336.25Z" class="mf"/>
<path d="M211.30 316.85L214.15 321.25L208.45 321.25Z" class="mf"/>
<path d="M232.50 321.05L235.35 325.45L229.65 325.45Z" class="mf"/>
<path d="M254.40 361.15L257.25 365.55L251.55 365.55Z" class="mf"/>
<path d="M275.60 357.75L278.45 362.15L272.75 362.15Z" class="mf"/>
<path d="M297.50 362.35L300.35 366.75L294.65 366.75Z" class="mf"/>
<path d="M319.41 357.55L322.26 361.95L316.56 361.95Z" class="mf"/>
<path d="M340.61 349.25L343.46 353.65L337.76 353.65Z" class="mf"/>
<path d="M61.50 359.24L63.46 361.20L61.50 363.16L59.54 361.20Z" class="mf"/>
<path d="M104.60 364.34L106.56 366.30L104.60 368.26L102.65 366.30Z" class="mf"/>
<path d="M147.71 342.94L149.66 344.90L147.71 346.86L145.75 344.90Z" class="mf"/>
<path d="M169.61 339.04L171.57 341.00L169.61 342.96L167.65 341.00Z" class="mf"/>
<path d="M189.39 347.04L191.35 349.00L189.39 350.96L187.44 349.00Z" class="mf"/>
<path d="M211.30 349.84L213.26 351.80L211.30 353.76L209.34 351.80Z" class="mf"/>
<path d="M232.50 345.54L234.45 347.50L232.50 349.46L230.54 347.50Z" class="mf"/>
<path d="M254.40 358.34L256.36 360.30L254.40 362.26L252.44 360.30Z" class="mf"/>
<path d="M275.60 362.24L277.56 364.20L275.60 366.16L273.64 364.20Z" class="mf"/>
<path d="M297.50 367.44L299.46 369.40L297.50 371.36L295.55 369.40Z" class="mf"/>
<path d="M319.41 366.84L321.37 368.80L319.41 370.76L317.45 368.80Z" class="mf"/>
<path d="M340.61 363.74L342.56 365.70L340.61 367.66L338.65 365.70Z" class="mf"/>
<path d="M61.50 352.25L64.35 356.65L58.65 356.65Z" class="mo"/>
<path d="M104.60 307.45L107.45 311.85L101.75 311.85Z" class="mo"/>
<path d="M147.71 302.95L150.56 307.35L144.86 307.35Z" class="mo"/>
<path d="M169.61 251.35L172.46 255.75L166.76 255.75Z" class="mo"/>
<path d="M189.39 310.45L192.24 314.85L186.54 314.85Z" class="mo"/>
<path d="M211.30 279.05L214.15 283.45L208.45 283.45Z" class="mo"/>
<path d="M232.50 306.85L235.35 311.25L229.65 311.25Z" class="mo"/>
<path d="M254.40 347.55L257.25 351.95L251.55 351.95Z" class="mo"/>
<path d="M275.60 328.75L278.45 333.15L272.75 333.15Z" class="mo"/>
<path d="M297.50 334.25L300.35 338.65L294.65 338.65Z" class="mo"/>
<path d="M319.41 349.65L322.26 354.05L316.56 354.05Z" class="mo"/>
<path d="M340.61 308.65L343.46 313.05L337.76 313.05Z" class="mo"/>
<path d="M61.50 373.18L64.32 376.00L61.50 378.82L58.68 376.00Z" class="mo"/>
<path d="M104.60 367.58L107.42 370.40L104.60 373.22L101.78 370.40Z" class="mo"/>
<path d="M147.71 354.18L150.52 357.00L147.71 359.82L144.89 357.00Z" class="mo"/>
<path d="M169.61 348.28L172.43 351.10L169.61 353.92L166.79 351.10Z" class="mo"/>
<path d="M189.39 355.98L192.21 358.80L189.39 361.62L186.58 358.80Z" class="mo"/>
<path d="M211.30 361.98L214.12 364.80L211.30 367.62L208.48 364.80Z" class="mo"/>
<path d="M232.50 353.68L235.32 356.50L232.50 359.32L229.68 356.50Z" class="mo"/>
<path d="M254.40 364.68L257.22 367.50L254.40 370.32L251.58 367.50Z" class="mo"/>
<path d="M275.60 370.98L278.42 373.80L275.60 376.62L272.78 373.80Z" class="mo"/>
<path d="M297.50 375.18L300.32 378.00L297.50 380.82L294.69 378.00Z" class="mo"/>
<path d="M319.41 373.18L322.23 376.00L319.41 378.82L316.59 376.00Z" class="mo"/>
<path d="M340.61 366.18L343.43 369.00L340.61 371.82L337.79 369.00Z" class="mo"/>
<path class="eb" d="M390.60 346.40V367.40M387.10 346.40H394.10M387.10 367.40H394.10"/>
<path class="eb" d="M433.70 350.60V364.60M430.20 350.60H437.20M430.20 364.60H437.20"/>
<path class="eb" d="M476.81 350.00V356.00M473.31 350.00H480.31M473.31 356.00H480.31"/>
<path class="eb" d="M498.71 345.50V351.50M495.21 345.50H502.21M495.21 351.50H502.21"/>
<path class="eb" d="M518.49 352.00V358.00M514.99 352.00H521.99M514.99 358.00H521.99"/>
<path class="eb" d="M540.40 346.10V352.10M536.90 346.10H543.90M536.90 352.10H543.90"/>
<path class="eb" d="M561.60 346.10V352.10M558.10 346.10H565.10M558.10 352.10H565.10"/>
<path class="eb" d="M583.50 358.50V364.50M580.00 358.50H587.00M580.00 364.50H587.00"/>
<path class="eb" d="M604.70 367.50V373.50M601.20 367.50H608.20M601.20 373.50H608.20"/>
<path class="eb" d="M626.60 377.30V383.30M623.10 377.30H630.10M623.10 383.30H630.10"/>
<path class="eb" d="M648.51 378.00V384.00M645.01 378.00H652.01M645.01 384.00H652.01"/>
<path class="eb" d="M669.71 372.00V378.00M666.21 372.00H673.21M666.21 378.00H673.21"/>
<path class="eb" d="M390.60 305.90V317.90M387.10 305.90H394.10M387.10 317.90H394.10"/>
<path class="eb" d="M433.70 310.60V322.60M430.20 310.60H437.20M430.20 322.60H437.20"/>
<path class="eb" d="M476.81 300.50V324.50M473.31 300.50H480.31M473.31 324.50H480.31"/>
<path class="eb" d="M498.71 275.60V315.60M495.21 275.60H502.21M495.21 315.60H502.21"/>
<path class="eb" d="M518.49 293.50V321.50M514.99 293.50H521.99M514.99 321.50H521.99"/>
<path class="eb" d="M540.40 268.00V302.00M536.90 268.00H543.90M536.90 302.00H543.90"/>
<path class="eb" d="M561.60 305.80V321.80M558.10 305.80H565.10M558.10 321.80H565.10"/>
<path class="eb" d="M583.50 318.10V340.10M580.00 318.10H587.00M580.00 340.10H587.00"/>
<path class="eb" d="M604.70 346.90V358.90M601.20 346.90H608.20M601.20 358.90H608.20"/>
<path class="eb" d="M626.60 358.50V370.50M623.10 358.50H630.10M623.10 370.50H630.10"/>
<path class="eb" d="M648.51 364.20V372.20M645.01 364.20H652.01M645.01 372.20H652.01"/>
<path class="eb" d="M669.71 349.80V367.80M666.21 349.80H673.21M666.21 367.80H673.21"/>
<path class="eb" d="M390.60 363.40V370.00M387.10 363.40H394.10M387.10 370.00H394.10"/>
<path class="eb" d="M433.70 358.00V367.60M430.20 358.00H437.20M430.20 367.60H437.20"/>
<path class="eb" d="M476.81 347.30V353.30M473.31 347.30H480.31M473.31 353.30H480.31"/>
<path class="eb" d="M498.71 343.90V349.90M495.21 343.90H502.21M495.21 349.90H502.21"/>
<path class="eb" d="M518.49 349.30V355.30M514.99 349.30H521.99M514.99 355.30H521.99"/>
<path class="eb" d="M540.40 338.60V344.60M536.90 338.60H543.90M536.90 344.60H543.90"/>
<path class="eb" d="M561.60 348.90V354.90M558.10 348.90H565.10M558.10 354.90H565.10"/>
<path class="eb" d="M583.50 353.40V359.40M580.00 353.40H587.00M580.00 359.40H587.00"/>
<path class="eb" d="M604.70 367.50V373.50M601.20 367.50H608.20M601.20 373.50H608.20"/>
<path class="eb" d="M626.60 375.00V381.00M623.10 375.00H630.10M623.10 381.00H630.10"/>
<path class="eb" d="M648.51 373.30V379.30M645.01 373.30H652.01M645.01 379.30H652.01"/>
<path class="eb" d="M669.71 368.10V374.10M666.21 368.10H673.21M666.21 374.10H673.21"/>
<path class="eb" d="M390.60 311.20V329.20M387.10 311.20H394.10M387.10 329.20H394.10"/>
<path class="eb" d="M433.70 301.40V322.20M430.20 301.40H437.20M430.20 322.20H437.20"/>
<path class="eb" d="M476.81 278.60V322.60M473.31 278.60H480.31M473.31 322.60H480.31"/>
<path class="eb" d="M498.71 278.60V322.60M495.21 278.60H502.21M495.21 322.60H502.21"/>
<path class="eb" d="M518.49 293.00V321.00M514.99 293.00H521.99M514.99 321.00H521.99"/>
<path class="eb" d="M540.40 276.80V324.80M536.90 276.80H543.90M536.90 324.80H543.90"/>
<path class="eb" d="M561.60 277.30V307.30M558.10 277.30H565.10M558.10 307.30H565.10"/>
<path class="eb" d="M583.50 289.80V339.80M580.00 289.80H587.00M580.00 339.80H587.00"/>
<path class="eb" d="M604.70 306.20V338.20M601.20 306.20H608.20M601.20 338.20H608.20"/>
<path class="eb" d="M626.60 334.80V364.80M623.10 334.80H630.10M623.10 364.80H630.10"/>
<path class="eb" d="M648.51 335.50V359.50M645.01 335.50H652.01M645.01 359.50H652.01"/>
<path class="eb" d="M669.71 316.90V354.90M666.21 316.90H673.21M666.21 354.90H673.21"/>
<path class="eb" d="M390.60 369.30V373.30M387.10 369.30H394.10M387.10 373.30H394.10"/>
<path class="eb" d="M433.70 371.50V375.50M430.20 371.50H437.20M430.20 375.50H437.20"/>
<path class="eb" d="M476.81 353.30V357.30M473.31 353.30H480.31M473.31 357.30H480.31"/>
<path class="eb" d="M498.71 348.80V352.80M495.21 348.80H502.21M495.21 352.80H502.21"/>
<path class="eb" d="M518.49 356.30V360.30M514.99 356.30H521.99M514.99 360.30H521.99"/>
<path class="eb" d="M540.40 352.10V356.10M536.90 352.10H543.90M536.90 356.10H543.90"/>
<path class="eb" d="M561.60 352.80V356.80M558.10 352.80H565.10M558.10 356.80H565.10"/>
<path class="eb" d="M583.50 360.60V364.60M580.00 360.60H587.00M580.00 364.60H587.00"/>
<path class="eb" d="M604.70 370.40V374.40M601.20 370.40H608.20M601.20 374.40H608.20"/>
<path class="eb" d="M626.60 382.50V386.50M623.10 382.50H630.10M623.10 386.50H630.10"/>
<path class="eb" d="M648.51 380.00V384.00M645.01 380.00H652.01M645.01 384.00H652.01"/>
<path class="eb" d="M669.71 374.50V378.50M666.21 374.50H673.21M666.21 378.50H673.21"/>
<path class="ln" d="M390.60 356.90L433.70 357.60L476.81 353.00L498.71 348.50L518.49 355.00L540.40 349.10L561.60 349.10L583.50 361.50L604.70 370.50L626.60 380.30L648.51 381.00L669.71 375.00" stroke-dasharray="5 2.1"/>
<path class="ln" d="M390.60 311.90L433.70 316.60L476.81 312.50L498.71 295.60L518.49 307.50L540.40 285.00L561.60 313.80L583.50 329.10L604.70 352.90L626.60 364.50L648.51 368.20L669.71 358.80" stroke-dasharray="0.8 2.1"/>
<path class="ln" d="M390.60 366.70L433.70 362.80L476.81 350.30L498.71 346.90L518.49 352.30L540.40 341.60L561.60 351.90L583.50 356.40L604.70 370.50L626.60 378.00L648.51 376.30L669.71 371.10" stroke-dasharray="0.8 2.1 2.9 2.1"/>
<path class="ln" d="M390.60 320.20L433.70 311.80L476.81 300.60L498.71 300.60L518.49 307.00L540.40 300.80L561.60 292.30L583.50 314.80L604.70 322.20L626.60 349.80L648.51 347.50L669.71 335.90" stroke-dasharray="2.9 2.9"/>
<path class="ln" d="M390.60 371.30L433.70 373.50L476.81 355.30L498.71 350.80L518.49 358.30L540.40 354.10L561.60 354.80L583.50 362.60L604.70 372.40L626.60 384.50L648.51 382.00L669.71 376.50"/>
<rect x="388.61" y="354.91" width="3.99" height="3.99" class="mo"/>
<rect x="431.71" y="355.61" width="3.99" height="3.99" class="mo"/>
<rect x="474.81" y="351.01" width="3.99" height="3.99" class="mo"/>
<rect x="496.72" y="346.51" width="3.99" height="3.99" class="mo"/>
<rect x="516.50" y="353.01" width="3.99" height="3.99" class="mo"/>
<rect x="538.41" y="347.11" width="3.99" height="3.99" class="mo"/>
<rect x="559.60" y="347.11" width="3.99" height="3.99" class="mo"/>
<rect x="581.51" y="359.51" width="3.99" height="3.99" class="mo"/>
<rect x="602.71" y="368.51" width="3.99" height="3.99" class="mo"/>
<rect x="624.61" y="378.31" width="3.99" height="3.99" class="mo"/>
<rect x="646.52" y="379.01" width="3.99" height="3.99" class="mo"/>
<rect x="667.71" y="373.01" width="3.99" height="3.99" class="mo"/>
<path d="M390.60 309.15L393.45 313.55L387.75 313.55Z" class="mf"/>
<path d="M433.70 313.85L436.55 318.25L430.85 318.25Z" class="mf"/>
<path d="M476.81 309.75L479.66 314.15L473.96 314.15Z" class="mf"/>
<path d="M498.71 292.85L501.56 297.25L495.86 297.25Z" class="mf"/>
<path d="M518.49 304.75L521.34 309.15L515.64 309.15Z" class="mf"/>
<path d="M540.40 282.25L543.25 286.65L537.55 286.65Z" class="mf"/>
<path d="M561.60 311.05L564.45 315.45L558.75 315.45Z" class="mf"/>
<path d="M583.50 326.35L586.35 330.75L580.65 330.75Z" class="mf"/>
<path d="M604.70 350.15L607.55 354.55L601.85 354.55Z" class="mf"/>
<path d="M626.60 361.75L629.45 366.15L623.75 366.15Z" class="mf"/>
<path d="M648.51 365.45L651.36 369.85L645.66 369.85Z" class="mf"/>
<path d="M669.71 356.05L672.56 360.45L666.86 360.45Z" class="mf"/>
<path d="M390.60 364.74L392.56 366.70L390.60 368.66L388.64 366.70Z" class="mf"/>
<path d="M433.70 360.84L435.66 362.80L433.70 364.76L431.75 362.80Z" class="mf"/>
<path d="M476.81 348.34L478.76 350.30L476.81 352.26L474.85 350.30Z" class="mf"/>
<path d="M498.71 344.94L500.67 346.90L498.71 348.86L496.75 346.90Z" class="mf"/>
<path d="M518.49 350.34L520.45 352.30L518.49 354.26L516.54 352.30Z" class="mf"/>
<path d="M540.40 339.64L542.36 341.60L540.40 343.56L538.44 341.60Z" class="mf"/>
<path d="M561.60 349.94L563.55 351.90L561.60 353.86L559.64 351.90Z" class="mf"/>
<path d="M583.50 354.44L585.46 356.40L583.50 358.36L581.54 356.40Z" class="mf"/>
<path d="M604.70 368.54L606.66 370.50L604.70 372.46L602.74 370.50Z" class="mf"/>
<path d="M626.60 376.04L628.56 378.00L626.60 379.96L624.65 378.00Z" class="mf"/>
<path d="M648.51 374.34L650.47 376.30L648.51 378.26L646.55 376.30Z" class="mf"/>
<path d="M669.71 369.14L671.66 371.10L669.71 373.06L667.75 371.10Z" class="mf"/>
<path d="M390.60 317.45L393.45 321.85L387.75 321.85Z" class="mo"/>
<path d="M433.70 309.05L436.55 313.45L430.85 313.45Z" class="mo"/>
<path d="M476.81 297.85L479.66 302.25L473.96 302.25Z" class="mo"/>
<path d="M498.71 297.85L501.56 302.25L495.86 302.25Z" class="mo"/>
<path d="M518.49 304.25L521.34 308.65L515.64 308.65Z" class="mo"/>
<path d="M540.40 298.05L543.25 302.45L537.55 302.45Z" class="mo"/>
<path d="M561.60 289.55L564.45 293.95L558.75 293.95Z" class="mo"/>
<path d="M583.50 312.05L586.35 316.45L580.65 316.45Z" class="mo"/>
<path d="M604.70 319.45L607.55 323.85L601.85 323.85Z" class="mo"/>
<path d="M626.60 347.05L629.45 351.45L623.75 351.45Z" class="mo"/>
<path d="M648.51 344.75L651.36 349.15L645.66 349.15Z" class="mo"/>
<path d="M669.71 333.15L672.56 337.55L666.86 337.55Z" class="mo"/>
<path d="M390.60 368.48L393.42 371.30L390.60 374.12L387.78 371.30Z" class="mo"/>
<path d="M433.70 370.68L436.52 373.50L433.70 376.32L430.88 373.50Z" class="mo"/>
<path d="M476.81 352.48L479.62 355.30L476.81 358.12L473.99 355.30Z" class="mo"/>
<path d="M498.71 347.98L501.53 350.80L498.71 353.62L495.89 350.80Z" class="mo"/>
<path d="M518.49 355.48L521.31 358.30L518.49 361.12L515.68 358.30Z" class="mo"/>
<path d="M540.40 351.28L543.22 354.10L540.40 356.92L537.58 354.10Z" class="mo"/>
<path d="M561.60 351.98L564.42 354.80L561.60 357.62L558.78 354.80Z" class="mo"/>
<path d="M583.50 359.78L586.32 362.60L583.50 365.42L580.68 362.60Z" class="mo"/>
<path d="M604.70 369.58L607.52 372.40L604.70 375.22L601.88 372.40Z" class="mo"/>
<path d="M626.60 381.68L629.42 384.50L626.60 387.32L623.79 384.50Z" class="mo"/>
<path d="M648.51 379.18L651.33 382.00L648.51 384.82L645.69 382.00Z" class="mo"/>
<path d="M669.71 373.68L672.53 376.50L669.71 379.32L666.89 376.50Z" class="mo"/>
<path class="ln" d="M92.1 9.1H110.0"/>
<path d="M101.20 6.28L104.02 9.10L101.20 11.92L98.38 9.10Z" class="mo"/>
<text class="lg" x="117.9" y="12.2">Reference</text>
<path class="ln" d="M92.1 20.5H110.3" stroke-dasharray="2.9 2.9"/>
<path d="M101.50 17.75L104.35 22.15L98.65 22.15Z" class="mo"/>
<text class="lg" x="117.9" y="23.6">Logging deck</text>
<path class="ln" d="M175.9 9.0H193.7" stroke-dasharray="0.8 2.1 2.9 2.1"/>
<path d="M185.00 7.04L186.96 9.00L185.00 10.96L183.04 9.00Z" class="mf"/>
<text class="lg" x="202.2" y="12.1">Felling gap</text>
<path class="ln" d="M178.5 20.6H195.6" stroke-dasharray="0.8 2.1"/>
<path d="M187.50 17.85L190.35 22.25L184.65 22.25Z" class="mf"/>
<text class="lg" x="205.1" y="23.7">Road</text>
<path class="ln" d="M260.0 9.3H277.6" stroke-dasharray="5 2.1"/>
<rect x="266.81" y="7.31" width="3.99" height="3.99" class="mo"/>
<text class="lg" x="285.9" y="12.4">Skidding trail</text>
</svg></body></html>
